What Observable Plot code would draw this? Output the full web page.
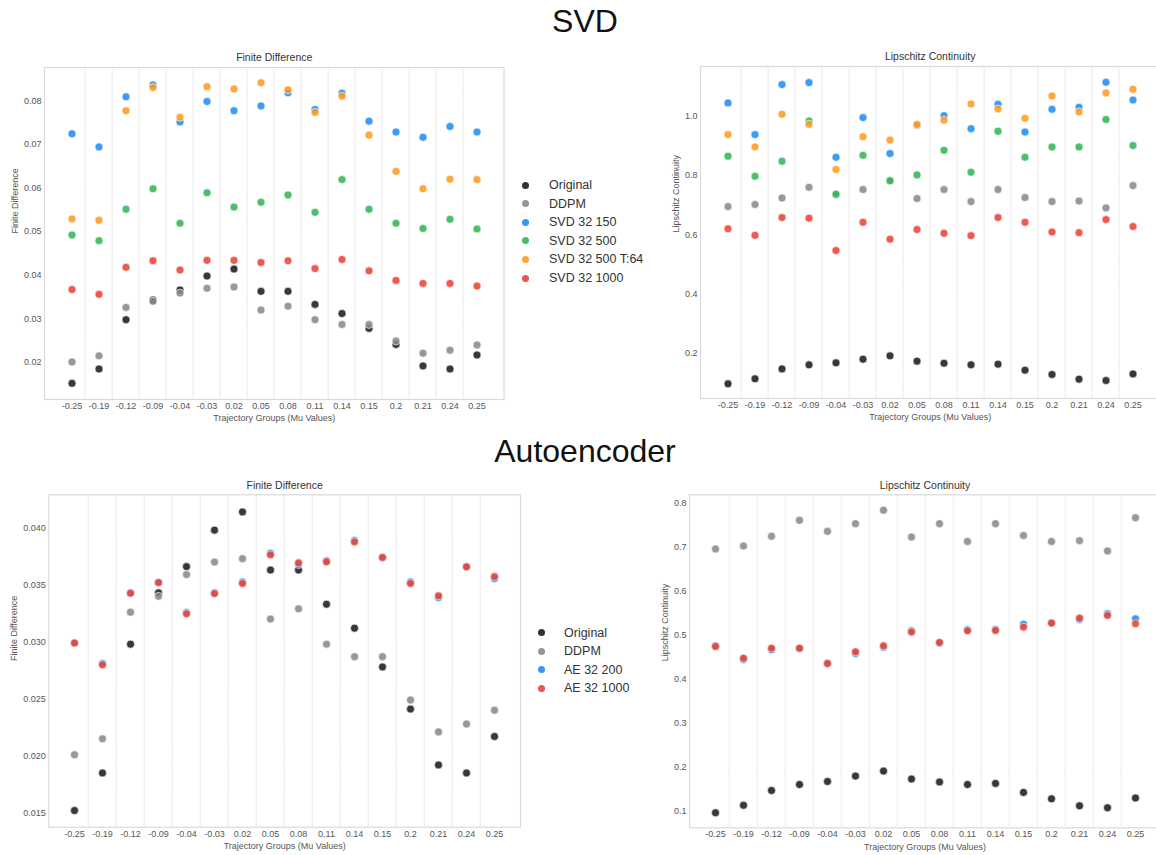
<!DOCTYPE html>
<html>
<head>
<meta charset="utf-8">
<script src="https://cdn.jsdelivr.net/npm/d3@7"></script>
<script src="https://cdn.jsdelivr.net/npm/@observablehq/plot@0.6"></script>
<style>
  html, body { margin: 0; padding: 0; background: #fff; }
  #page { position: relative; width: 1156px; height: 855px; overflow: hidden; background: #fff;
          font-family: "Liberation Sans", Arial, sans-serif; }
  .bigtitle { position: absolute; left: 0; width: 1170px; text-align: center; font-size: 32px;
              line-height: 32px; color: #111; }
  .panel { position: absolute; }
  .panel svg { max-width: none !important; }
  .legend { position: absolute; left: 0; top: 0; width: 1156px; height: 855px; font-size: 12.5px; color: #333; pointer-events: none; }
  .legend .sw { position: absolute; width: 7px; height: 7px; border-radius: 50%; }
  .legend .lb { position: absolute; white-space: nowrap; line-height: 16px; }
</style>
</head>
<body>
<div id="page"></div>
<script>
// Trajectory groups (mu values) shared by all four panels
const mu = ["-0.25","-0.19","-0.12","-0.09","-0.04","-0.03","0.02","0.05","0.08","0.11","0.14","0.15","0.2","0.21","0.24","0.25"];

// Finite difference
const fdOriginal  = [0.0152,0.0185,0.0298,0.0343,0.0366,0.0398,0.0414,0.0363,0.0363,0.0333,0.0312,0.0278,0.0241,0.0192,0.0185,0.0217];
const fdDDPM      = [0.0201,0.0215,0.0326,0.0340,0.0359,0.0370,0.0373,0.0320,0.0329,0.0298,0.0287,0.0287,0.0249,0.0221,0.0228,0.0240];
const fdSvd150    = [0.0724,0.0694,0.0809,0.0836,0.0751,0.0798,0.0777,0.0788,0.0818,0.0780,0.0817,0.0753,0.0728,0.0716,0.0741,0.0728];
const fdSvd500    = [0.0492,0.0479,0.0551,0.0598,0.0519,0.0589,0.0556,0.0567,0.0584,0.0544,0.0619,0.0551,0.0519,0.0507,0.0528,0.0506];
const fdSvd500T64 = [0.0529,0.0526,0.0777,0.0830,0.0762,0.0832,0.0827,0.0841,0.0825,0.0773,0.0810,0.0721,0.0638,0.0598,0.0620,0.0619];
const fdSvd1000   = [0.0367,0.0356,0.0418,0.0433,0.0412,0.0434,0.0434,0.0429,0.0433,0.0415,0.0436,0.0410,0.0388,0.0381,0.0381,0.0375];
const fdAe200     = [0.0299,0.0281,0.0343,0.0352,0.03257,0.0343,0.03526,0.03778,0.03678,0.03711,0.03889,0.0374,0.03526,0.03389,0.03658,0.03556];
const fdAe1000    = [0.0299,0.0280,0.03427,0.0352,0.03246,0.03424,0.03512,0.03763,0.03693,0.03702,0.03877,0.0374,0.03512,0.03404,0.03658,0.03573];

// Lipschitz continuity
const lcOriginal  = [0.0965,0.1134,0.147,0.1606,0.1674,0.1797,0.191,0.173,0.1663,0.1606,0.163,0.1426,0.128,0.1123,0.1077,0.130];
const lcDDPM      = [0.695,0.702,0.724,0.760,0.735,0.7525,0.783,0.722,0.7525,0.712,0.7525,0.7255,0.712,0.714,0.6906,0.766];
const lcSvd150    = [1.045,0.938,1.107,1.1136,0.8616,0.9955,0.874,0.970,1.002,0.958,1.0405,0.947,1.0236,1.030,1.115,1.055];
const lcSvd500    = [0.865,0.7975,0.848,0.984,0.737,0.868,0.782,0.802,0.885,0.811,0.949,0.8616,0.8965,0.8965,0.989,0.901];
const lcSvd500T64 = [0.938,0.8965,1.007,0.973,0.820,0.931,0.920,0.972,0.9865,1.0416,1.0248,0.993,1.0686,1.0146,1.0788,1.091];
const lcSvd1000   = [0.620,0.598,0.658,0.656,0.5466,0.642,0.585,0.6175,0.605,0.597,0.658,0.642,0.6096,0.607,0.651,0.6276];
const lcAe200     = [0.4753,0.4443,0.4663,0.469,0.4352,0.458,0.4723,0.5094,0.4814,0.5117,0.5124,0.5245,0.5268,0.5351,0.548,0.5366];
const lcAe1000    = [0.4738,0.4473,0.470,0.470,0.4352,0.4617,0.4753,0.5064,0.4829,0.5094,0.5102,0.5177,0.5268,0.5382,0.5442,0.5253];

// Series names and colours
const svdNames  = ["Original","DDPM","SVD 32 150","SVD 32 500","SVD 32 500 T:64","SVD 32 1000"];
const svdColors = ["#1c1c1c","#8a8a8a","#1f8ef1","#34b556","#ff9b21","#eb4438"];
const aeNames   = ["Original","DDPM","AE 32 200","AE 32 1000"];
const aeColors  = ["#1c1c1c","#8a8a8a","#1f8ef1","#eb4438"];

// Axis text
const xLabel = "Trajectory Groups (Mu Values)";
const fdLabel = "Finite Difference";
const lcLabel = "Lipschitz Continuity";
const fdTicksSvd = [0.02,0.03,0.04,0.05,0.06,0.07,0.08];
const lcTicksSvd = [0.2,0.4,0.6,0.8,1.0];
const fdTicksAe  = [0.015,0.020,0.025,0.030,0.035,0.040];
const lcTicksAe  = [0.1,0.2,0.3,0.4,0.5,0.6,0.7,0.8];

const FONT = "'Liberation Sans', Arial, sans-serif";
const page = document.getElementById("page");

function panel({title, yLabel, yDomain, yTicks, yFormat, names, colors, series,
                left, top, width, height, ml, mr, mt, mb, yLabelDx}) {
  const rows = names.flatMap((name, s) => series[s].map((v, i) => ({mu: mu[i], name, v})));
  const po = 0.28;
  const step = (width - ml - mr) / (mu.length + 2 * po);
  const chart = Plot.plot({
    width, height,
    marginLeft: ml, marginRight: mr, marginTop: mt, marginBottom: mb,
    style: {fontFamily: FONT, fontSize: "9px", color: "#555", background: "transparent", overflow: "visible"},
    x: {type: "band", domain: mu, paddingInner: 0, paddingOuter: po},
    y: {domain: yDomain},
    color: {domain: names, range: colors},
    marks: [
      // dotted separators between neighbouring trajectory groups
      Plot.ruleX(mu.slice(1), {x: d => d, dx: -step / 2, stroke: "#d2d2d2", strokeWidth: 0.9, strokeDasharray: "1.3,1.3"}),
      Plot.frame({stroke: "#dadada", strokeWidth: 1.2}),
      Plot.axisX({tickSize: 0, tickPadding: 3, label: null}),
      Plot.axisY({ticks: yTicks, tickSize: 0, tickPadding: 3, tickFormat: yFormat, label: null}),
      Plot.text([xLabel], {text: d => d, frameAnchor: "bottom", lineAnchor: "middle", dy: 19, fontSize: 9, fill: "#555"}),
      Plot.text([yLabel], {text: d => d, frameAnchor: "left", lineAnchor: "middle", dx: yLabelDx, rotate: -90, fontSize: 9, fill: "#555"}),
      Plot.text([title], {text: d => d, frameAnchor: "top", lineAnchor: "middle", dy: -9.5, fontSize: 10.5, fill: "#333"}),
      Plot.dot(rows, {x: "mu", y: "v", fill: "name", r: 4, stroke: "white", strokeWidth: 0.6, fillOpacity: 0.88})
    ]
  });
  chart.style.maxWidth = "none";
  const wrap = document.createElement("div");
  wrap.className = "panel";
  wrap.style.left = left + "px";
  wrap.style.top = top + "px";
  wrap.style.width = width + "px";
  wrap.style.height = height + "px";
  wrap.appendChild(chart);
  page.appendChild(wrap);
}

function legend(names, colors, x, y, textX, rowStep) {
  const box = document.createElement("div");
  box.className = "legend";
  names.forEach((name, i) => {
    const cy = y + i * rowStep;
    const sw = document.createElement("span");
    sw.className = "sw";
    sw.style.left = (x - 3.5) + "px";
    sw.style.top = (cy - 3.5) + "px";
    sw.style.background = colors[i];
    sw.style.opacity = 0.9;
    box.appendChild(sw);
    const lb = document.createElement("span");
    lb.className = "lb";
    lb.style.left = textX + "px";
    lb.style.top = (cy - 8) + "px";
    lb.textContent = name;
    box.appendChild(lb);
  });
  page.appendChild(box);
}

function bigTitle(text, top) {
  const d = document.createElement("div");
  d.className = "bigtitle";
  d.style.top = top + "px";
  d.textContent = text;
  page.appendChild(d);
}

bigTitle("SVD", 5);
bigTitle("Autoencoder", 435);

panel({title: "Finite Difference", yLabel: fdLabel, yDomain: [0.0115, 0.0876], yTicks: fdTicksSvd,
       yFormat: d3.format(".2f"), names: svdNames, colors: svdColors,
       series: [fdOriginal, fdDDPM, fdSvd150, fdSvd500, fdSvd500T64, fdSvd1000],
       left: 0, top: 40, width: 520, height: 400, ml: 44, mr: 16.5, mt: 27, mb: 41, yLabelDx: -29});

panel({title: "Lipschitz Continuity", yLabel: lcLabel, yDomain: [0.047, 1.168], yTicks: lcTicksSvd,
       yFormat: d3.format(".1f"), names: svdNames, colors: svdColors,
       series: [lcOriginal, lcDDPM, lcSvd150, lcSvd500, lcSvd500T64, lcSvd1000],
       left: 640, top: 40, width: 530, height: 400, ml: 60, mr: 10.7, mt: 26, mb: 42, yLabelDx: -24});

panel({title: "Finite Difference", yLabel: fdLabel, yDomain: [0.01374, 0.0429], yTicks: fdTicksAe,
       yFormat: d3.format(".3f"), names: aeNames, colors: aeColors,
       series: [fdOriginal, fdDDPM, fdAe200, fdAe1000],
       left: 0, top: 465, width: 540, height: 390, ml: 48.3, mr: 20, mt: 29.3, mb: 28.3, yLabelDx: -35});

panel({title: "Lipschitz Continuity", yLabel: lcLabel, yDomain: [0.0623, 0.818], yTicks: lcTicksAe,
       yFormat: d3.format(".1f"), names: aeNames, colors: aeColors,
       series: [lcOriginal, lcDDPM, lcAe200, lcAe1000],
       left: 640, top: 465, width: 530, height: 390, ml: 49, mr: 10, mt: 29.3, mb: 27.7, yLabelDx: -24.7});

legend(svdNames, svdColors, 525.7, 185, 549, 18.6);
legend(aeNames, aeColors, 541.7, 632.7, 564, 18.5);
</script>
</body>
</html>
